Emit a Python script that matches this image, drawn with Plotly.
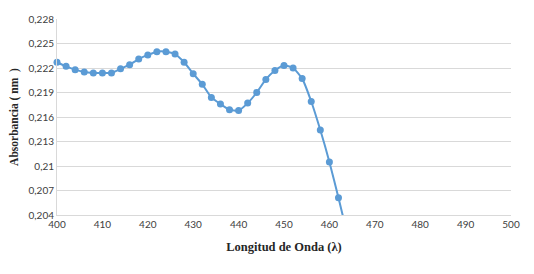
import plotly.graph_objects as go

wavelength = [400, 402, 404, 406, 408, 410, 412, 414, 416, 418, 420, 422, 424, 426, 428,
              430, 432, 434, 436, 438, 440, 442, 444, 446, 448, 450, 452, 454, 456, 458,
              460, 462, 464]
absorbance = [0.2227, 0.2222, 0.2218, 0.2215, 0.2214, 0.2214, 0.2214, 0.2219, 0.2224, 0.2231,
              0.2236, 0.2240, 0.2240, 0.2237, 0.2227, 0.2213, 0.2200, 0.2184, 0.2176, 0.2169,
              0.2168, 0.2177, 0.2190, 0.2206, 0.2217, 0.2223, 0.2220, 0.2207, 0.2179, 0.2144,
              0.2105, 0.2061, 0.2015]
y_ticks = [0.204, 0.207, 0.210, 0.213, 0.216, 0.219, 0.222, 0.225, 0.228]
y_tick_labels = ["0,204", "0,207", "0,21", "0,213", "0,216", "0,219", "0,222", "0,225", "0,228"]
x_ticks = [400, 410, 420, 430, 440, 450, 460, 470, 480, 490, 500]

y_min, y_max = 0.204, 0.228
blue = "#5B9BD5"
grid = "#D9D9D9"

# markers only for points inside the visible range (the line itself is clipped)
mx = [x for x, y in zip(wavelength, absorbance) if y >= y_min]
my = [y for y in absorbance if y >= y_min]

fig = go.Figure()
fig.add_trace(go.Scatter(
    x=wavelength, y=absorbance, mode="lines",
    line=dict(color=blue, width=2, shape="spline", smoothing=0.6),
    showlegend=False,
))
fig.add_trace(go.Scatter(
    x=mx, y=my, mode="markers",
    marker=dict(color=blue, size=7),
    cliponaxis=False, showlegend=False,
))

tick_font = dict(family="Lato, Open Sans, sans-serif", size=10, color="#404040")
ytitle_font = dict(family="Liberation Serif, Times New Roman, serif", size=11.5, color="#262626")
xtitle_font = dict(family="Liberation Serif, Times New Roman, serif", size=12.5, color="#262626")

# page body has a default 8px margin, so the figure is shifted; compensate here
fig.update_layout(
    width=526, height=266,
    margin=dict(l=49, r=23, t=11, b=59),
    plot_bgcolor="white", paper_bgcolor="white",
    xaxis=dict(
        range=[400, 500], tickvals=x_ticks, ticktext=[str(v) for v in x_ticks],
        showgrid=False, showline=True, linecolor=grid, linewidth=1,
        ticks="", tickfont=tick_font, zeroline=False, automargin=False,
        title=dict(text="<b>Longitud de Onda (λ)</b>", font=xtitle_font, standoff=13),
    ),
    yaxis=dict(
        range=[y_min, y_max], tickvals=y_ticks, ticktext=y_tick_labels,
        showgrid=True, gridcolor=grid, gridwidth=1,
        showline=True, linecolor=grid, linewidth=1,
        ticks="", tickfont=tick_font, zeroline=False, automargin=False,
        title=dict(text="<b>Absorbancia ( nm  )</b>", font=ytitle_font, standoff=8),
    ),
)

fig.write_html("out.html")
